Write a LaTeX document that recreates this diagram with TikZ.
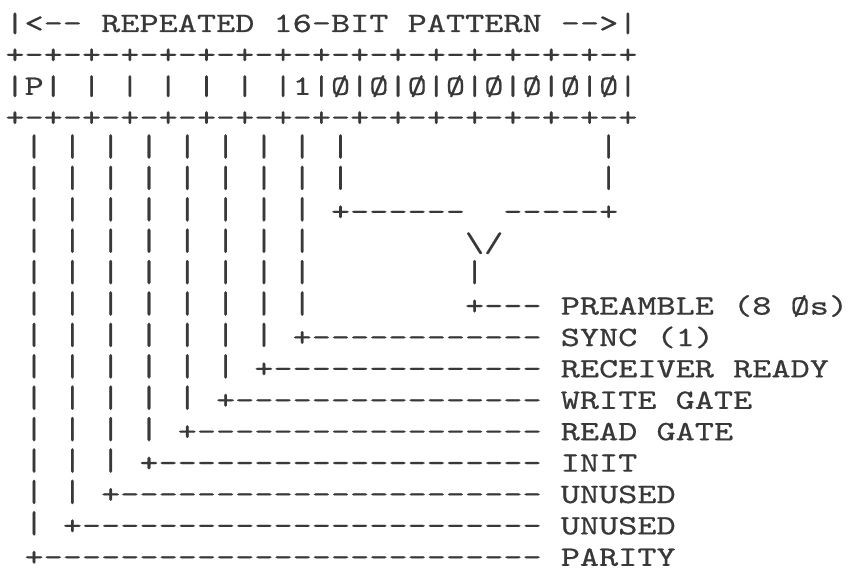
\documentclass[tikz,border=0pt]{standalone}
\usepackage{fontspec}
\usepackage{graphicx}
% typewriter face, widened to a Courier-like pitch and inked a little heavier
\newfontfamily\asciifont{lmmono10-regular.otf}[FakeStretch=1.303,FakeBold=0.6,Ligatures=TeXOff]
\definecolor{ink}{HTML}{383838}
\tikzset{
  ascii/.style={anchor=base west, inner sep=0pt, outer sep=0pt, text=ink,
    font=\asciifont\fontsize{28}{31}\selectfont}
}
% \asciiat{name}{column}{row}{characters}
\newcommand\asciiat[4]{\node[ascii] (#1) at ({5.4+19.15*#2},{-(32+31.4*(#3-1))}) {#4};}
% a lead bar, drawn as tall as the printer's
\newcommand\leadbar{\raisebox{1.5pt}{\scalebox{1}[1.12]{|}}}

\begin{document}
\begin{tikzpicture}[x=1pt,y=1pt]
\fill[white] (0,0) rectangle (849,-578);
\useasboundingbox (0,0) rectangle (849,-578);

% frame of the 16-bit word
\asciiat{title}{0}{1}{|<-- REPEATED 16-BIT PATTERN -->|}
\asciiat{topedge}{0}{2}{+-+-+-+-+-+-+-+-+-+-+-+-+-+-+-+-+}
\asciiat{cells}{0}{3}{|P| | | | | | |1|Ø|Ø|Ø|Ø|Ø|Ø|Ø|Ø|}
\asciiat{botedge}{0}{4}{+-+-+-+-+-+-+-+-+-+-+-+-+-+-+-+-+}

% vertical leads under each bit: row / number of leads (columns 1,3,5,...)
\foreach \r/\m in {5/9,6/9,7/8,8/8,9/8,10/8,11/7,12/6,13/5,14/4,15/3,16/2,17/1}{
  \foreach \k in {1,...,\m}{
    \pgfmathtruncatemacro\c{2*\k-1}
    \asciiat{v\r-\c}{\c}{\r}{\leadbar}
  }
}
\asciiat{vr5}{31}{5}{\leadbar}
\asciiat{vr6}{31}{6}{\leadbar}

% the eight preamble bits merged into one lead
\asciiat{joinl}{17}{7}{+------}
\asciiat{joinr}{26}{7}{-----+}
\asciiat{vee}{24}{8}{\symbol{"5C}/}
\asciiat{stem}{24}{9}{\leadbar}
\asciiat{lead10}{24}{10}{+---}
\asciiat{lab10}{29}{10}{PREAMBLE (8 Øs)}

% leaders to the bit names
\asciiat{lead11}{15}{11}{+------------}
\asciiat{lab11}{29}{11}{SYNC (1)}
\asciiat{lead12}{13}{12}{+--------------}
\asciiat{lab12}{29}{12}{RECEIVER READY}
\asciiat{lead13}{11}{13}{+----------------}
\asciiat{lab13}{29}{13}{WRITE GATE}
\asciiat{lead14}{9}{14}{+------------------}
\asciiat{lab14}{29}{14}{READ GATE}
\asciiat{lead15}{7}{15}{+--------------------}
\asciiat{lab15}{29}{15}{INIT}
\asciiat{lead16}{5}{16}{+----------------------}
\asciiat{lab16}{29}{16}{UNUSED}
\asciiat{lead17}{3}{17}{+------------------------}
\asciiat{lab17}{29}{17}{UNUSED}
\asciiat{lead18}{1}{18}{+--------------------------}
\asciiat{lab18}{29}{18}{PARITY}
\end{tikzpicture}
\end{document}
